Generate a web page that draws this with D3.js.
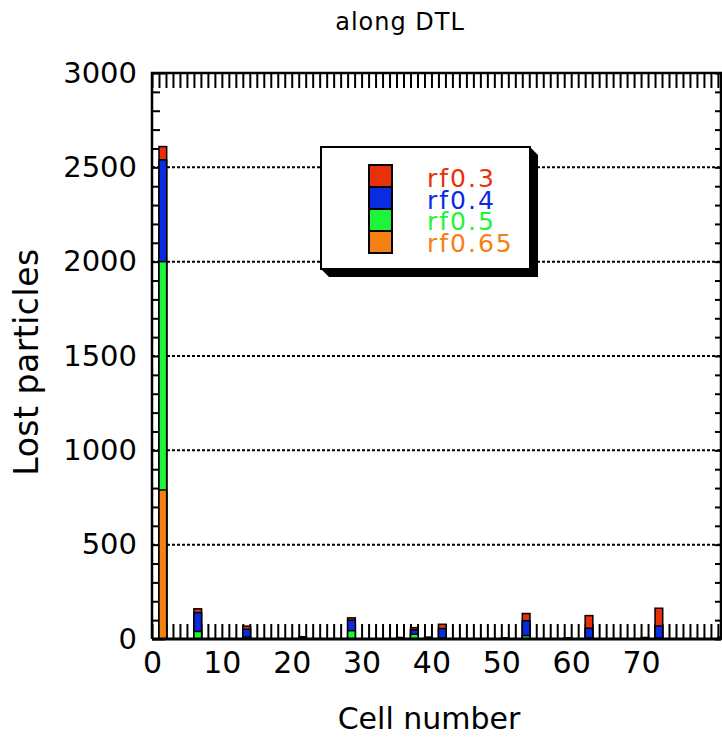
<!DOCTYPE html>
<html>
<head>
<meta charset="utf-8">
<script src="https://cdn.jsdelivr.net/npm/d3@7"></script>
<style>
  body { margin: 0; background: #fff; }
  text { font-family: "DejaVu Sans", sans-serif; }
</style>
</head>
<body>
<div id="canvas"></div>
<script>
// data
const cells = [1, 6, 13, 21, 28, 35, 37, 39, 41, 50, 53, 59, 62, 70, 72, 81];
const rf03  = [2610, 160, 68, 12, 112, 0, 60, 10, 78, 6, 135, 6, 124, 8, 163, 10];
const rf04  = [2540, 140, 52, 6, 100, 8, 48, 0, 55, 0, 97, 0, 57, 0, 69, 5];
const rf05  = [2000, 40, 10, 0, 44, 0, 25, 0, 5, 0, 18, 0, 5, 0, 5, 0];
const rf065 = [790, 0, 0, 0, 0, 0, 0, 0, 0, 0, 0, 0, 0, 0, 0, 0];

const seriesNames = ['rf0.3', 'rf0.4', 'rf0.5', 'rf0.65'];
const seriesColors = ['#e8300a', '#0a2be0', '#1ef53a', '#f58014'];
const seriesValues = [rf03, rf04, rf05, rf065];

const xTickLabels = [0, 10, 20, 30, 40, 50, 60, 70];
const yTickLabels = [0, 500, 1000, 1500, 2000, 2500, 3000];
const gridValues = [500, 1000, 1500, 2000, 2500];

// constants
const width = 722;
const height = 737;
const plotLeft = 152;
const plotRight = 721;
const plotTop = 73;
const plotBottom = 639;
const barWidth = 1.1;

const x = d3.scaleLinear().domain([0, 81.3]).range([plotLeft, plotRight - 1]);
const y = d3.scaleLinear().domain([0, 3000]).range([plotBottom, plotTop]);

const svg = d3.select('#canvas')
    .append('svg').attr('width', width).attr('height', height);

// title
svg.append('text')
    .text('along DTL')
    .attr('x', 400).attr('y', 30)
    .attr('text-anchor', 'middle')
    .attr('font-size', 24)
    .attr('letter-spacing', 1);

// dotted grid
svg.append('g')
    .selectAll('line')
    .data(gridValues)
    .join('line')
    .attr('x1', plotLeft).attr('x2', plotRight)
    .attr('y1', d => y(d)).attr('y2', d => y(d))
    .attr('stroke', '#000')
    .attr('stroke-width', 2)
    .attr('stroke-dasharray', '3,2');

// tick marks, all pointing inward
function noDomain(g) { g.select('.domain').remove(); }

svg.append('g')
    .attr('transform', `translate(0,${plotBottom})`)
    .call(d3.axisBottom(x).tickValues(d3.range(0, 82)).tickSize(-15).tickFormat(''))
    .call(noDomain)
    .selectAll('line').attr('stroke-width', 2);
svg.append('g')
    .attr('transform', `translate(0,${plotTop})`)
    .call(d3.axisTop(x).tickValues(d3.range(0, 82)).tickSize(-15).tickFormat(''))
    .call(noDomain)
    .selectAll('line').attr('stroke-width', 2);

const minorY = d3.range(0, 3001, 100).filter(d => d % 500 !== 0);
svg.append('g')
    .attr('transform', `translate(${plotLeft},0)`)
    .call(d3.axisLeft(y).tickValues(minorY).tickSize(-8).tickFormat(''))
    .call(noDomain)
    .selectAll('line').attr('stroke-width', 2);
svg.append('g')
    .attr('transform', `translate(${plotLeft},0)`)
    .call(d3.axisLeft(y).tickValues(yTickLabels).tickSize(-13).tickFormat(''))
    .call(noDomain)
    .selectAll('line').attr('stroke-width', 2);
svg.append('g')
    .attr('transform', `translate(${plotRight},0)`)
    .call(d3.axisRight(y).tickValues(d3.range(0, 3001, 100)).tickSize(-6).tickFormat(''))
    .call(noDomain)
    .selectAll('line').attr('stroke-width', 2);

// tick labels
svg.append('g')
    .attr('transform', `translate(0,${plotBottom})`)
    .call(d3.axisBottom(x).tickValues(xTickLabels).tickSize(0).tickPadding(13).tickFormat(d3.format('d')))
    .call(noDomain)
    .selectAll('text')
    .attr('font-family', '"DejaVu Sans", sans-serif')
    .attr('font-size', 30)
    .attr('fill', '#000');
svg.append('g')
    .attr('transform', `translate(${plotLeft},0)`)
    .call(d3.axisLeft(y).tickValues(yTickLabels).tickSize(0).tickPadding(15).tickFormat(d3.format('d')))
    .call(noDomain)
    .selectAll('text')
    .attr('font-family', '"DejaVu Sans", sans-serif')
    .attr('font-size', 29)
    .attr('fill', '#000');

// bars: each series from zero, drawn largest first
seriesValues.forEach((vals, s) => {
    const rows = cells.map((c, i) => ({ c: c, v: vals[i] })).filter(d => d.v > 0);
    svg.append('g')
        .selectAll('rect')
        .data(rows)
        .join('rect')
        .attr('x', d => x(d.c))
        .attr('width', d => x(d.c + barWidth) - x(d.c))
        .attr('y', d => y(d.v))
        .attr('height', d => y(0) - y(d.v))
        .attr('fill', seriesColors[s])
        .attr('stroke', '#000')
        .attr('stroke-width', 1.5);
});

// frame
svg.append('path')
    .attr('d', `M${plotLeft},${plotBottom}V${plotTop}H${plotRight}V${plotBottom}`)
    .attr('fill', 'none')
    .attr('stroke', '#000')
    .attr('stroke-width', 2.5);
svg.append('line')
    .attr('x1', plotLeft).attr('x2', plotRight)
    .attr('y1', plotBottom).attr('y2', plotBottom)
    .attr('stroke', '#000')
    .attr('stroke-width', 3);

// axis titles
svg.append('text')
    .text('Cell number')
    .attr('x', 429).attr('y', 729)
    .attr('text-anchor', 'middle')
    .attr('font-size', 30);
svg.append('text')
    .text('Lost particles')
    .attr('transform', 'translate(38,362) rotate(-90)')
    .attr('text-anchor', 'middle')
    .attr('font-size', 33)
    .attr('letter-spacing', 0.5);

// legend with drop shadow
const lx = 321, ly = 147, lw = 209, lh = 122, sh = 8;
svg.append('path')
    .attr('d', `M${lx + lw},${ly}L${lx + lw + sh},${ly + sh}V${ly + lh + sh}H${lx + sh}L${lx},${ly + lh}Z`)
    .attr('fill', '#000');
svg.append('rect')
    .attr('x', lx).attr('y', ly)
    .attr('width', lw).attr('height', lh)
    .attr('fill', '#fff')
    .attr('stroke', '#000')
    .attr('stroke-width', 2);

const legend = svg.append('g');
legend.selectAll('rect')
    .data(seriesNames)
    .join('rect')
    .attr('x', 369)
    .attr('y', (d, i) => 165 + i * 22)
    .attr('width', 23)
    .attr('height', 22)
    .attr('fill', (d, i) => seriesColors[i])
    .attr('stroke', '#000')
    .attr('stroke-width', 2);
legend.selectAll('text')
    .data(seriesNames)
    .join('text')
    .text(d => d)
    .attr('x', 427)
    .attr('y', (d, i) => 187 + i * 21.7)
    .attr('font-size', 25)
    .attr('letter-spacing', 2)
    .attr('fill', (d, i) => seriesColors[i]);
</script>
</body>
</html>
